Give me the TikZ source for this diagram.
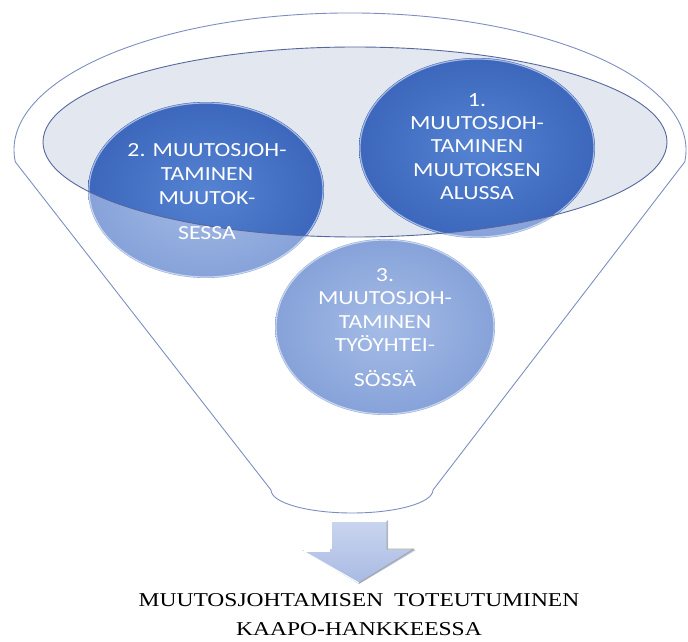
\documentclass[tikz,border=0pt]{standalone}
\usepackage{fontspec}
\newfontfamily\circfont[FakeStretch=1.19]{Carlito}
\newfontfamily\capfont[FakeStretch=1.2]{Liberation Serif}
\begin{document}
\begin{tikzpicture}[x=1pt,y=1pt,
  funnelline/.style={draw=funnelcol, line width=0.9pt},
  lightdisc/.style={inner color=discLin, outer color=discLout},
  darkdisc/.style={inner color=discDin, outer color=discDout},
  discrim/.style={draw=white, draw opacity=0.55, line width=1.2pt},
  ctext/.style={text=white, align=center, inner sep=0pt},
  captext/.style={text=black, align=center, inner sep=0pt}]
\definecolor{funnelcol}{HTML}{7D8FC0}
\definecolor{rimcol}{HTML}{56679F}
\definecolor{topfill}{HTML}{E3E7F0}
\definecolor{discLin}{HTML}{A5BCE6}
\definecolor{discLout}{HTML}{86A2D9}
\definecolor{discDin}{HTML}{5583D2}
\definecolor{discDout}{HTML}{3C67BC}
\definecolor{arrowtop}{HTML}{CAD5EF}
\definecolor{arrowbot}{HTML}{A8BAE3}
\useasboundingbox (0,0) rectangle (688,641);

% funnel mouth (filled ellipse)
\fill[topfill] (355,499) ellipse [x radius=312, y radius=95];

% the three discs, pale where they lie outside the mouth
\shade[lightdisc] (477,493) ellipse [x radius=118, y radius=90];
\shade[lightdisc] (206,451) ellipse [x radius=118, y radius=88];
\shade[lightdisc] (385,314) ellipse [x radius=110, y radius=88];

% deeper blue inside the mouth
\begin{scope}
  \clip (355,499) ellipse [x radius=312, y radius=95];
  \shade[darkdisc] (477,493) ellipse [x radius=118, y radius=90];
  \shade[darkdisc] (206,451) ellipse [x radius=118, y radius=88];
\end{scope}

% bevel rims
\draw[discrim] (477,493) ellipse [x radius=117, y radius=89];
\draw[discrim] (206,451) ellipse [x radius=117, y radius=87];
\draw[discrim] (385,314) ellipse [x radius=109, y radius=87];

% rim of the mouth
\draw[draw=rimcol, line width=0.9pt] (355,499) ellipse [x radius=312, y radius=95];

% funnel outline
\draw[funnelline] (15.3,479.1)
  arc[start angle=185, end angle=-5, x radius=336, y radius=137]
  -- (433,151)
  arc[start angle=0, end angle=-180, x radius=81, y radius=23]
  -- cycle;

% disc labels
\node[ctext, font=\circfont\fontsize{20}{23.3}\selectfont] (t1) at (477,494.5)
  {1.\\MUUTOSJOH-\\TAMINEN\\MUUTOKSEN\\ALUSSA};
\node[ctext, font=\circfont\fontsize{20}{24}\selectfont] (t2) at (207,449.5)
  {2. MUUTOSJOH-\\TAMINEN\\MUUTOK-\\[11pt]SESSA};
\node[ctext, font=\circfont\fontsize{20}{23.5}\selectfont] (t3) at (385,313.5)
  {3.\\MUUTOSJOH-\\TAMINEN\\TYÖYHTEI-\\[11.5pt]SÖSSÄ};

% block arrow out of the funnel
\shade[top color=arrowtop, bottom color=arrowbot]
  (330,121) -- (388,121) -- (388,91) -- (416,91) -- (359,57)
  -- (302,91) -- (330,91) -- cycle;
\draw[white, line width=1.4pt, line join=round]
  (331,92) -- (331,120) -- (387,120);
\draw[white, line width=1.2pt] (304,90) -- (330,90);
\draw[white, line width=1pt] (303,90) -- (359,58);
\draw[black!35, line width=1pt, line join=round]
  (387,120) -- (387,92) -- (414,92) -- (359,58);

% caption
\node[captext, font=\capfont\fontsize{19.6}{29}\selectfont] (cap) at (359,26.5)
  {MUUTOSJOHTAMISEN\hspace{11pt}TOTEUTUMINEN\\KAAPO-HANKKEESSA};
\end{tikzpicture}
\end{document}
